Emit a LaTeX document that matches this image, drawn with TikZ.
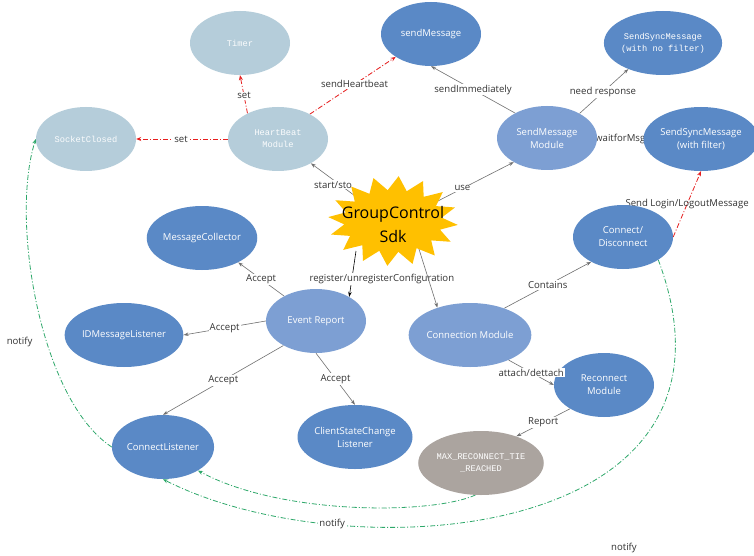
\documentclass[tikz,border=0pt]{standalone}
\usepackage{fontspec}
\setmainfont{Open Sans}
\newfontfamily\monof{Liberation Mono}
\usetikzlibrary{shapes.geometric,arrows.meta}
\pgfdeclarelayer{bg}
\pgfsetlayers{bg,main}
\definecolor{dblue}{HTML}{5A89C6}
\definecolor{mblue}{HTML}{7D9FD3}
\definecolor{lblue}{HTML}{B5CDDA}
\definecolor{mgrey}{HTML}{ABA49F}
\definecolor{gold}{HTML}{FFC000}
\definecolor{lnk}{HTML}{707070}
\definecolor{rlnk}{HTML}{E61E1E}
\definecolor{glnk}{HTML}{2EA86A}
\definecolor{labc}{HTML}{333333}
\begin{document}
\begin{tikzpicture}[x=1pt,y=-1pt,
  ell/.style={ellipse, minimum width=100pt, minimum height=64pt, inner sep=0pt, text=white, align=center, font=\fontsize{9.5}{13}\selectfont},
  dnode/.style={ell, fill=dblue},
  mnode/.style={ell, fill=mblue},
  lnode/.style={ell, fill=lblue, text=white!95!lblue, font=\monof\fontsize{8.7}{12}\selectfont},
  gnode/.style={ell, fill=mgrey, font=\monof\fontsize{8.7}{12}\selectfont},
  monotext/.style={font=\monof\fontsize{8.7}{12}\selectfont},
  gar/.style={draw=lnk, line width=0.6pt, -{Stealth[length=5pt,width=3.5pt]}},
  plainln/.style={draw=lnk, line width=0.6pt},
  rar/.style={draw=rlnk, line width=0.8pt, dash pattern=on 5pt off 2pt on 1pt off 2pt, -{Stealth[length=5pt,width=4pt]}},
  gre/.style={draw=glnk, line width=0.8pt, dash pattern=on 5pt off 2pt on 1pt off 2pt, -{Stealth[length=5pt,width=4pt]}},
  lab/.style={fill=white, inner sep=1pt, text=labc, font=\fontsize{9.6}{11}\selectfont},
  nolab/.style={inner sep=1pt, text=labc, font=\fontsize{9.6}{11}\selectfont}
]
\useasboundingbox (0,0) rectangle (754,556);

% nodes
\node[lnode] (timer) at (240,43) {Timer};
\node[lnode] (socket) at (86,139) {SocketClosed};
\node[lnode] (hb) at (278,139) {HeartBeat\\Module};
\node[dnode] (send) at (431,34) {sendMessage};
\node[dnode, monotext] (ssnf) at (663,43) {SendSyncMessage\\(with no filter)};
\node[mnode] (sm) at (547,138) {SendMessage\\Module};
\node[dnode] (ssf) at (701,139) {SendSyncMessage\\(with filter)};
\node[dnode] (mc) at (202,238) {MessageCollector};
\node[dnode] (idm) at (124,335) {IDMessageListener};
\node[mnode] (er) at (316,321) {Event Report};
\node[dnode] (cd) at (623,237) {Connect/\\Disconnect};
\node[mnode] (cm) at (470,335) {Connection Module};
\node[dnode] (rm) at (604,385) {Reconnect\\Module};
\node[dnode] (cl) at (163,447) {ConnectListener};
\node[dnode] (csl) at (355,437) {ClientStateChange\\Listener};
\node[gnode] (max) at (481,463) {MAX\_RECONNECT\_TIE\\\_REACHED};

% star
\fill[gold] plot[domain=0:32, samples=33, variable=\k]
  ({393+ifthenelse(mod(\k,2)==0,65,49)*cos(\k*11.25+5)},
   {221+ifthenelse(mod(\k,2)==0,45,31)*sin(\k*11.25+5)}) -- cycle;
\node[font=\fontsize{16}{24}\selectfont, align=center, inner sep=0pt] (sdk) at (393,224) {GroupControl\\Sdk};

\node[nolab] (n3) at (624,548) {notify};

% label drawn over the Reconnect ellipse
\draw[gar] (cm.-33) -- (rm.west) node[lab,pos=0.5]{attach/dettach};

\begin{pgfonlayer}{bg}
\fill[white] (0,0) rectangle (754,556);
\draw[rar] (hb.140) -- (timer.south) node[lab,pos=0.46]{set};
\draw[rar] (hb.west) -- (socket.east) node[lab,pos=0.51]{set};
\draw[rar] (hb.38) -- (send.-147) node[lab,pos=0.52]{sendHeartbeat};
\draw[gar] (sdk.center) -- (hb) node[lab,pos=0.73,yshift=-5pt]{start/sto};
\draw[gar] (sdk.center) -- (sm.-144) node[lab,pos=0.575]{use};
\draw[gar, draw=black] ([shift={(-37,27)}]sdk.center) -- (er.36) node[lab,pos=0.61,xshift=30pt]{register/unregisterConfiguration};
\draw[gar] ([shift={(25,22)}]sdk.center) -- (cm.140);
\draw[gar] (sm.142) -- (send.south) node[lab,pos=0.5]{sendImmediately};
\draw[gar] (sm.37) -- (ssnf.-143) node[lab,pos=0.48]{need response};
\draw[plainln] (sm.east) -- (ssf.west) node[lab,pos=0.5]{waitforMsg};
\draw[gar] (er.142) -- (mc.-34) node[lab,pos=0.5]{Accept};
\draw[gar] (er.west) -- (idm.east) node[lab,pos=0.5]{Accept};
\draw[gar] (er.217) -- (cl.north) node[lab,pos=0.5]{Accept};
\draw[gar] (er.south) -- (csl.north) node[lab,pos=0.5]{Accept};
\draw[gar] (cm.38) -- (cd.-142) node[lab,pos=0.5]{Contains};
\draw[gar] (rm.215) -- (max.37) node[lab,pos=0.5]{Report};
\draw[rar] (cd.east) -- (ssf.south) node[nolab,pos=0.5]{Send Login/LogoutMessage};
\draw[gre] (cd.-33) .. controls (765,545) and (345,572) .. (cl.south) node[lab,pos=0.75]{notify};
\draw[gre] (max.-100) .. controls (430,515) and (280,515) .. (cl.-34);
\draw[gre] (cl.west) .. controls (40,400) and (10,220) .. (socket.west) node[nolab,pos=0.4,xshift=-27pt]{notify};
\end{pgfonlayer}
\end{tikzpicture}
\end{document}
